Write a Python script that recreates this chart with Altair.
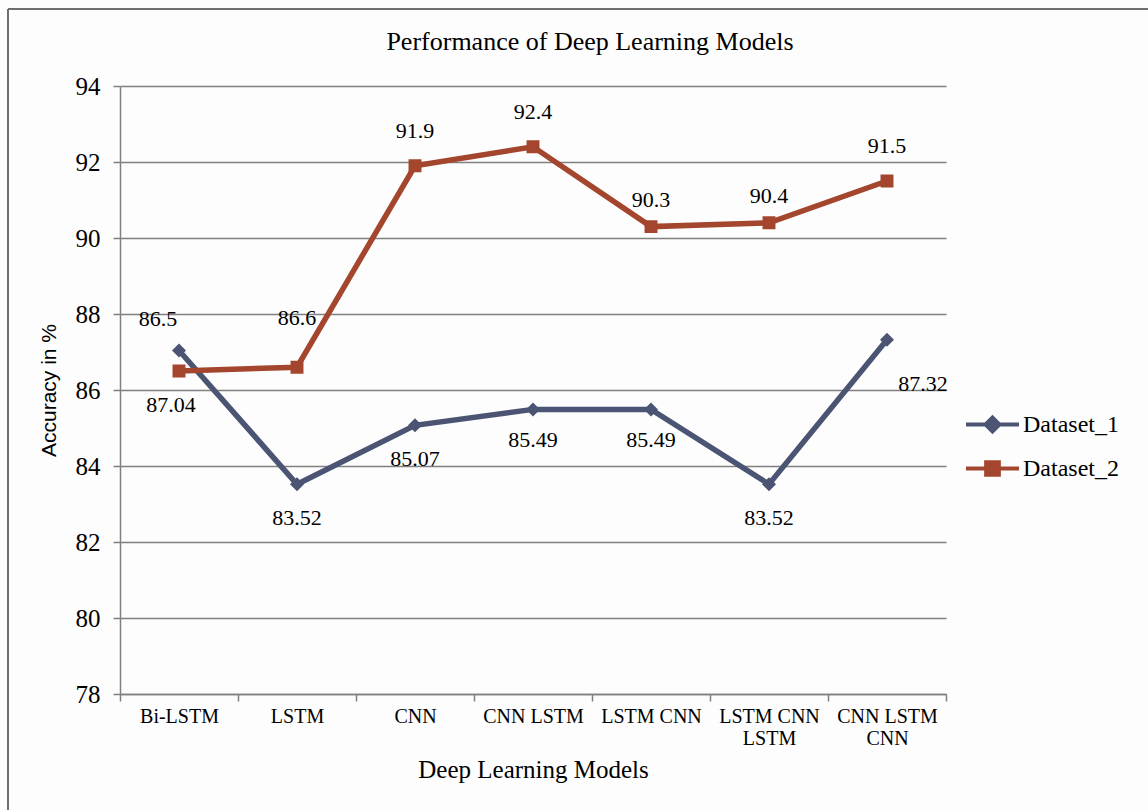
import altair as alt
import pandas as pd

# Accuracy (%) of each deep learning model on the two datasets
models = ["Bi-LSTM", "LSTM", "CNN", "CNN LSTM", "LSTM CNN", "LSTM CNN LSTM", "CNN LSTM CNN"]
dataset_1 = [87.04, 83.52, 85.07, 85.49, 85.49, 83.52, 87.32]
dataset_2 = [86.5, 86.6, 91.9, 92.4, 90.3, 90.4, 91.5]
series_names = ["Dataset_1", "Dataset_2"]
series_colors = ["#4b5573", "#a3462d"]
y_ticks = [78, 80, 82, 84, 86, 88, 90, 92, 94]

rows = []
for name, values in zip(series_names, [dataset_1, dataset_2]):
    for m, v in zip(models, values):
        rows.append({"model": m, "series": name, "accuracy": v})
df = pd.DataFrame(rows)

SERIF = "Liberation Serif"
GRID = "#808080"

# marker shapes: a horizontal stroke (only visible in the legend, where symbols are stroked)
# plus a filled diamond / square
DIAMOND = "M-1,0H1M-0.26,0L0,-0.26L0.26,0L0,0.26Z"
SQUARE = "M-1,0H1M-0.24,-0.24H0.24V0.24H-0.24Z"

label_expr = (
    "datum.value == 'LSTM CNN LSTM' ? ['LSTM CNN', 'LSTM'] : "
    "datum.value == 'CNN LSTM CNN' ? ['CNN LSTM', 'CNN'] : datum.value"
)

x_enc = alt.X(
    "model:N",
    sort=models,
    bandPosition=0.5,
    scale=alt.Scale(type="band", paddingInner=0, paddingOuter=0),
    axis=alt.Axis(
        title="Deep Learning Models",
        labelExpr=label_expr,
        labelAngle=0,
        labelFont=SERIF,
        labelFontSize=20,
        labelColor="black",
        labelPadding=5,
        labelLineHeight=22,
        tickBand="extent",
        tickSize=7,
        tickColor=GRID,
        tickWidth=1.5,
        domainColor=GRID,
        domainWidth=1.5,
        grid=False,
        titleFont=SERIF,
        titleFontSize=25,
        titleFontWeight="normal",
        titleColor="black",
        titlePadding=9,
    ),
)

y_enc = alt.Y(
    "accuracy:Q",
    scale=alt.Scale(domain=[78, 94], nice=False, zero=False),
    axis=alt.Axis(
        title="Accuracy in %",
        values=y_ticks,
        labelFont=SERIF,
        labelFontSize=25,
        labelColor="black",
        labelPadding=13,
        tickSize=7,
        tickColor=GRID,
        tickWidth=1.5,
        domainColor=GRID,
        domainWidth=1.5,
        grid=True,
        gridColor=GRID,
        gridWidth=1.5,
        titleFont="Liberation Sans",
        titleFontSize=21,
        titleFontWeight="normal",
        titleColor="black",
        titlePadding=16,
    ),
)

color_scale = alt.Scale(domain=series_names, range=series_colors)

base = alt.Chart(df)

lines = base.mark_line(strokeWidth=5.5).encode(
    x=x_enc,
    y=y_enc,
    color=alt.Color("series:N", scale=color_scale, title=None),
)

points = base.mark_point(filled=True, opacity=1, size=2900).encode(
    x=x_enc,
    y=y_enc,
    color=alt.Color("series:N", scale=color_scale, title=None),
    shape=alt.Shape(
        "series:N",
        scale=alt.Scale(domain=series_names, range=[DIAMOND, SQUARE]),
        title=None,
    ),
)


def value_labels(series, names, dx, dy):
    return (
        base.transform_filter(alt.datum.series == series)
        .transform_filter(alt.FieldOneOfPredicate(field="model", oneOf=names))
        .mark_text(font=SERIF, fontSize=22, color="black", dx=dx, dy=dy, baseline="middle")
        .encode(x=x_enc, y=y_enc, text=alt.Text("accuracy:Q"))
    )


labels = [
    value_labels("Dataset_2", ["Bi-LSTM"], -21, -52),
    value_labels("Dataset_2", ["LSTM"], 0, -49),
    value_labels("Dataset_2", ["CNN", "CNN LSTM", "CNN LSTM CNN"], 0, -35),
    value_labels("Dataset_2", ["LSTM CNN", "LSTM CNN LSTM"], 0, -27),
    value_labels("Dataset_1", ["Bi-LSTM"], -8, 55),
    value_labels("Dataset_1", ["LSTM", "CNN", "LSTM CNN LSTM"], 0, 34),
    value_labels("Dataset_1", ["CNN LSTM", "LSTM CNN"], 0, 31),
    value_labels("Dataset_1", ["CNN LSTM CNN"], 36, 44),
]

# thin frame along the top and left edges of the figure
frame_src = alt.Chart(pd.DataFrame({"k": [0]}))
frame_top = frame_src.mark_rule(color="#6e6e6e", strokeWidth=2).encode(
    x=alt.value(-112), x2=alt.value(1030), y=alt.value(-77)
)
frame_left = frame_src.mark_rule(color="#6e6e6e", strokeWidth=2).encode(
    x=alt.value(-112), y=alt.value(-77), y2=alt.value(726)
)

chart = (
    alt.layer(lines, points, *labels, frame_top, frame_left)
    .resolve_scale(color="shared", shape="shared")
    .properties(
        width=826,
        height=608,
        autosize=alt.AutoSizeParams(type="none"),
        padding={"left": 120, "top": 86, "right": 202, "bottom": 116},
        background="#fdfdfd",
        title=alt.TitleParams(
            "Performance of  Deep Learning Models",
            font=SERIF,
            fontSize=26,
            fontWeight="normal",
            color="black",
            anchor="middle",
            dx=57,
            offset=-47,
        ),
    )
    .configure_view(strokeWidth=0)
    .configure_legend(
        orient="none",
        legendX=844,
        legendY=310,
        padding=0,
        symbolSize=2809,
        symbolStrokeWidth=4,
        symbolOpacity=1,
        labelFont=SERIF,
        labelFontSize=24,
        labelColor="black",
        labelOffset=2,
        rowPadding=0,
    )
)

chart.save("out.html", embed_options={"renderer": "svg", "actions": False})
